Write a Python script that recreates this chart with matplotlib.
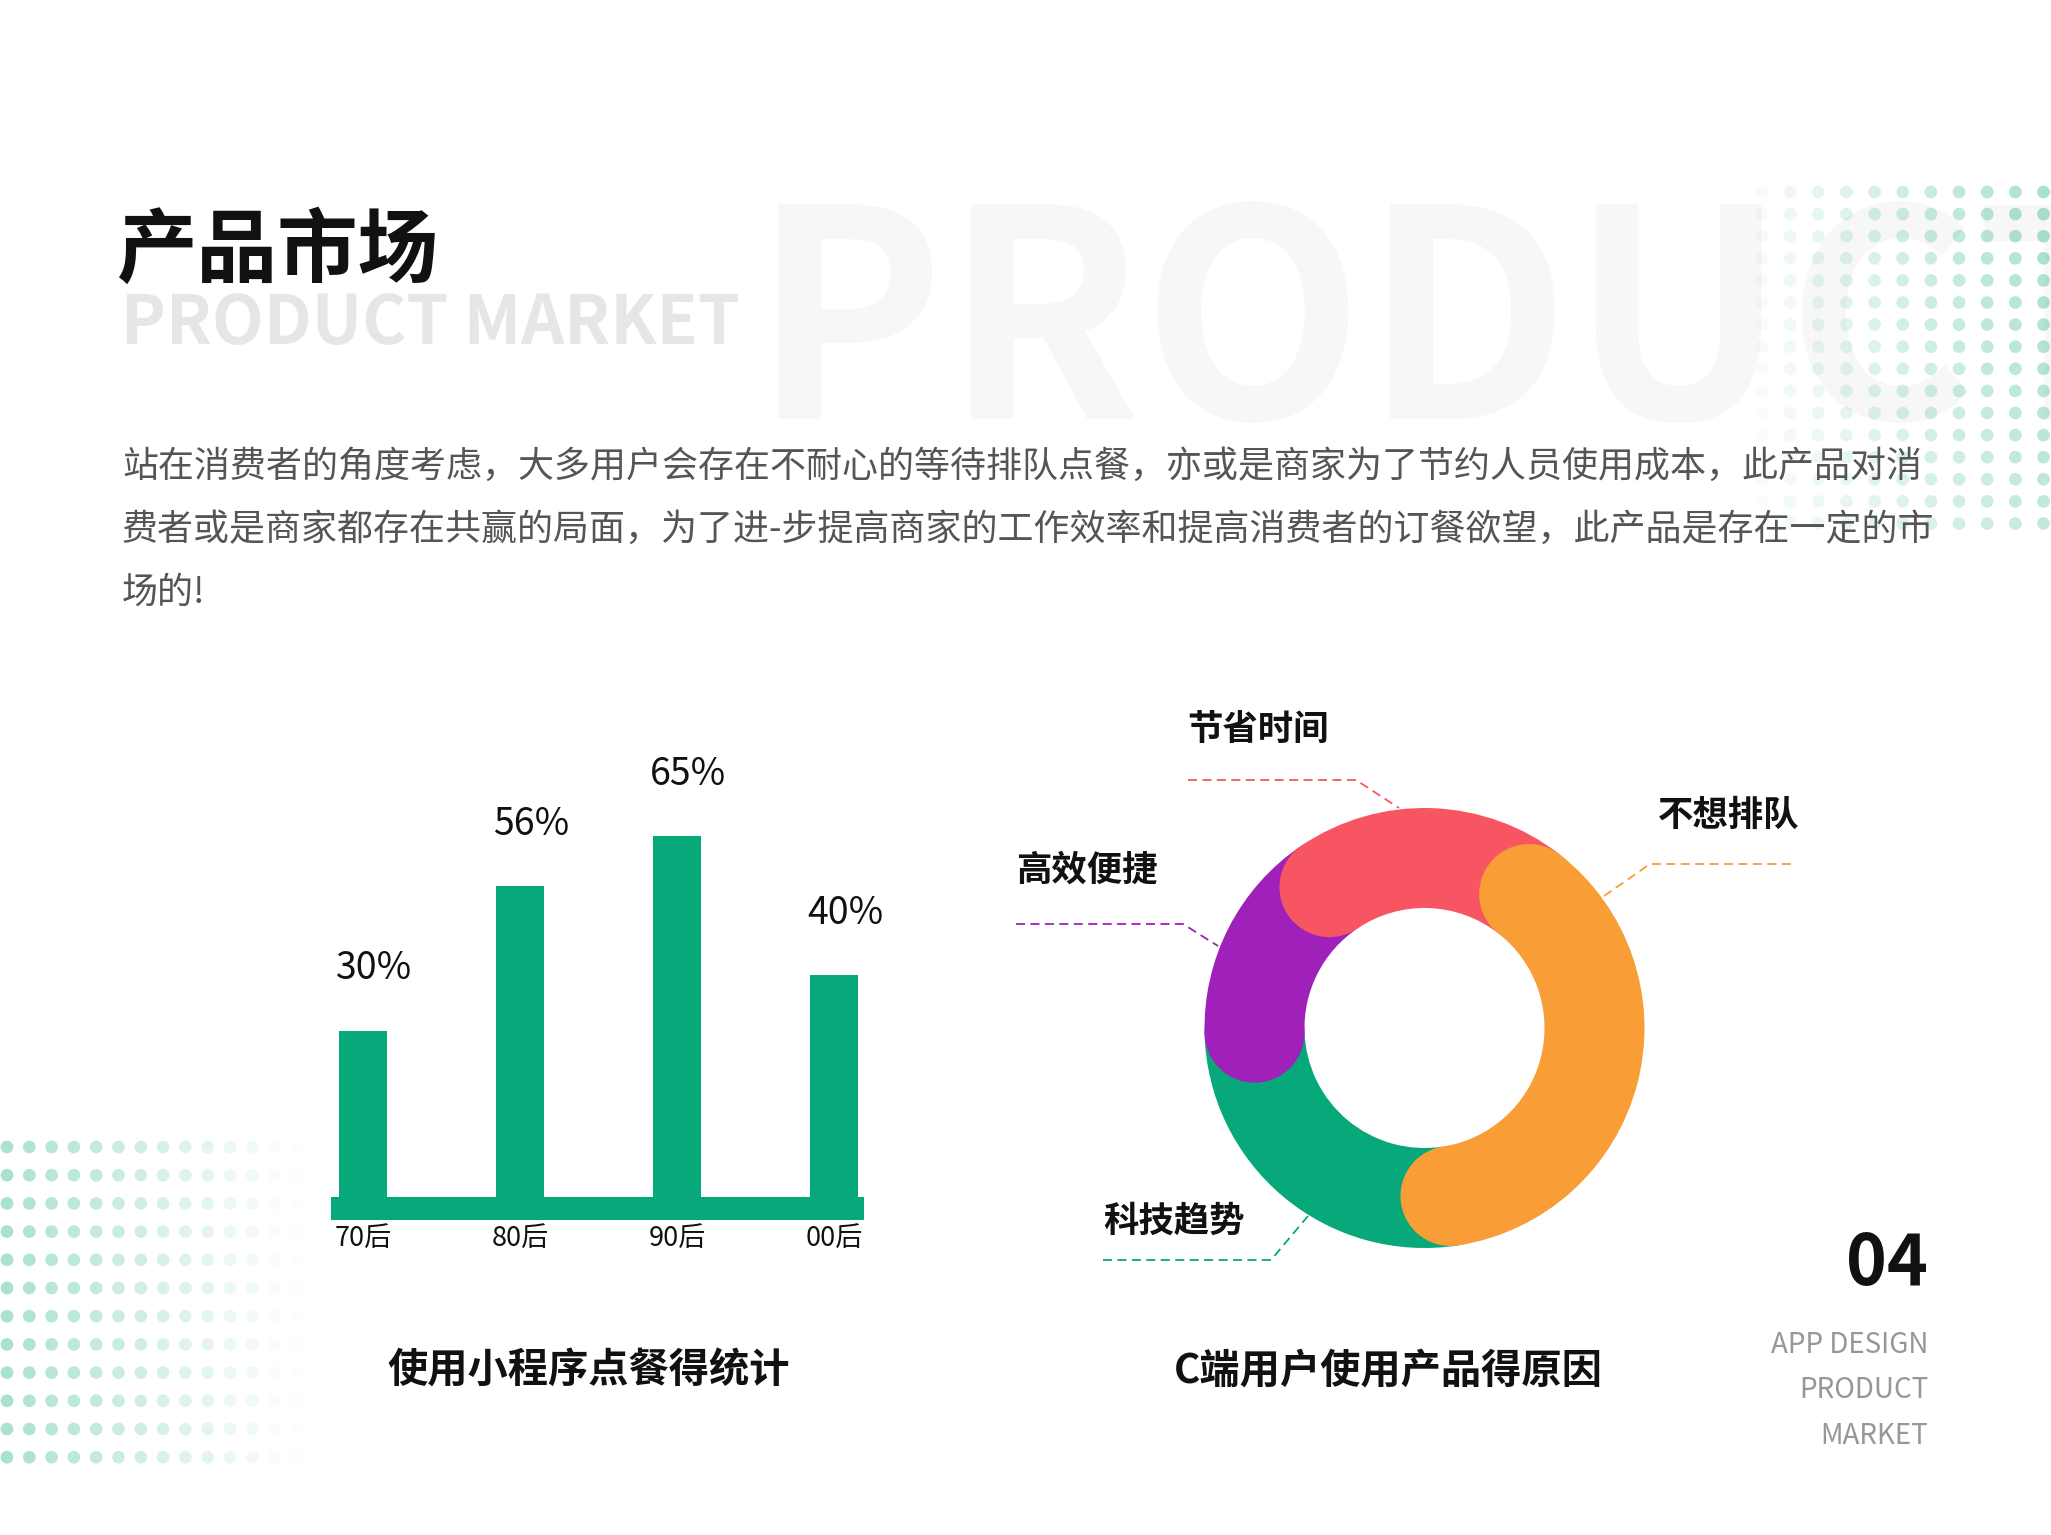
import numpy as np
import matplotlib
matplotlib.use('Agg')
import matplotlib.pyplot as plt
from matplotlib.patches import Wedge, Circle, Rectangle
from matplotlib.colors import to_rgba

plt.rcParams['font.family'] = ['Noto Sans CJK SC', 'DejaVu Sans']

# ---- data ----
age_groups = ['70后', '80后', '90后', '00后']
usage_share = [30, 56, 65, 40]

reasons = ['节省时间', '不想排队', '科技趋势', '高效便捷']
reason_share = [20, 37, 27, 16]
reason_colors = ['#f85563', '#f99d36', '#07a87a', '#a020ba']

paragraph_lines = [
    '站在消费者的角度考虑，大多用户会存在不耐心的等待排队点餐，亦或是商家为了节约人员使用成本，此产品对消',
    '费者或是商家都存在共赢的局面，为了进-步提高商家的工作效率和提高消费者的订餐欲望，此产品是存在一定的市',
    '场的!',
]

green = '#07a87a'
W, H = 2051, 1535

fig = plt.figure(figsize=(W / 100, H / 100), dpi=100)
fig.patch.set_facecolor('white')

# background axes in pixel units
bg = fig.add_axes([0, 0, 1, 1])
bg.set_xlim(0, W)
bg.set_ylim(H, 0)
bg.axis('off')


def px_box(x0, y0, x1, y1):
    return [x0 / W, 1 - y1 / H, (x1 - x0) / W, (y1 - y0) / H]


# big watermark
bg.text(752, 419, 'PRODUCT MARKET', fontsize=208, weight='bold', color='#f7f7f7',
        ha='left', va='baseline', zorder=0)

# dot grids
base = np.array(to_rgba(green))
cols, rows = np.meshgrid(np.arange(11), np.arange(16))
xs = 1762 + 28.15 * cols
ys = 192 + 22.1 * rows
alpha = (0.04 + 0.31 * cols / 10) * (1 - 0.3 * rows / 15)
c = np.tile(base, (xs.size, 1))
c[:, 3] = alpha.ravel()
bg.scatter(xs.ravel(), ys.ravel(), s=84, c=c, linewidths=0, zorder=1)

cols, rows = np.meshgrid(np.arange(14), np.arange(12))
xs = 7 + 22.3 * cols
ys = 1147 + 28.2 * rows
alpha = np.clip(0.34 * (1 - cols / 13), 0.01, 1)
c = np.tile(base, (xs.size, 1))
c[:, 3] = alpha.ravel()
bg.scatter(xs.ravel(), ys.ravel(), s=84, c=c, linewidths=0, zorder=1)

# titles
bg.text(116, 252, '产品市场', fontsize=58, weight='bold', color='#111111',
        ha='left', va='center', zorder=3)
bg.text(121, 344, 'PRODUCT MARKET', fontsize=48.5, weight='bold', color='#e6e6e6',
        ha='left', va='baseline', zorder=2)

for i, line in enumerate(paragraph_lines):
    bg.text(122, 467 + 63 * i, line, fontsize=25.9, color='#555555',
            ha='left', va='center', zorder=3)

# ---- bar chart ----
unit_y = 5.55
y0_px = 1197
x0_px, unit_x = 363.4, 156.9
bar_ax = fig.add_axes(px_box(320, y0_px - 80 * unit_y, 880, y0_px + 4.2 * unit_y))
bar_ax.set_xlim((320 - x0_px) / unit_x, (880 - x0_px) / unit_x)
bar_ax.set_ylim(-4.2, 80)
bar_ax.patch.set_alpha(0)
x = np.arange(len(age_groups))
bar_ax.bar(x, usage_share, width=48 / unit_x, color=green)
band_l = (331 - x0_px) / unit_x
band_r = (864 - x0_px) / unit_x
bar_ax.add_patch(Rectangle((band_l, -4.2), band_r - band_l, 4.2, color=green, lw=0))
for xi, v in zip(x, usage_share):
    bar_ax.annotate(f'{v}%', (xi, v), xytext=(8, 37), textcoords='offset points',
                    ha='center', va='baseline', fontsize=27, color='#111111')
bar_ax.set_xticks(x, age_groups)
bar_ax.tick_params(axis='x', length=0, pad=3.5, labelsize=19.5, labelcolor='#111111')
bar_ax.set_yticks([])
for s in bar_ax.spines.values():
    s.set_visible(False)

bg.text(589, 1371, '使用小程序点餐得统计', fontsize=29, weight='bold', color='#111111',
        ha='center', va='center')

# ---- donut ----
cx, cy, R = 1424.5, 1028, 220
d_ax = fig.add_axes(px_box(cx - 1.25 * R, cy - 1.25 * R, cx + 1.25 * R, cy + 1.25 * R))
d_ax.set_xlim(-1.25, 1.25)
d_ax.set_ylim(-1.25, 1.25)
d_ax.set_aspect('equal')
d_ax.axis('off')

ring_w = 100 / R
mid = 1 - ring_w / 2
theta = 124.0
spans = []
for share in reason_share:
    sweep = share / sum(reason_share) * 360
    spans.append((theta - sweep, theta))
    theta -= sweep


def cap(ang, color, z):
    a = np.radians(ang)
    d_ax.add_patch(Circle((mid * np.cos(a), mid * np.sin(a)), ring_w / 2,
                          color=color, lw=0, zorder=z))


# draw order: green, purple, red, orange
for z, i in enumerate([2, 3, 0, 1]):
    t1, t2 = spans[i]
    d_ax.add_patch(Wedge((0, 0), 1, t1, t2, width=ring_w, color=reason_colors[i],
                         lw=0, zorder=z + 1))
cap(spans[3][1], reason_colors[3], 2)
cap(spans[0][1], reason_colors[0], 3)
cap(spans[1][1], reason_colors[1], 4)
cap(spans[1][0], reason_colors[1], 4)

# leader lines and labels
leaders = {
    '节省时间': ([1188, 1356, 1399], [780, 780, 808], (1187, 729)),
    '不想排队': ([1604, 1650, 1792], [896, 864, 864], (1658, 815)),
    '科技趋势': ([1103, 1271, 1308], [1260, 1260, 1216], (1103, 1221)),
    '高效便捷': ([1016, 1183, 1218], [924, 924, 946], (1016, 870)),
}
for name, color in zip(reasons, reason_colors):
    lx, ly, (tx, ty) = leaders[name]
    bg.plot(lx, ly, color=color, lw=1.3, linestyle=(0, (5, 3)), zorder=2)
    bg.text(tx, ty, name, fontsize=25.5, weight='bold', color='#111111',
            ha='left', va='center', zorder=3)

bg.text(1388, 1371, 'C端用户使用产品得原因', fontsize=29, weight='bold', color='#111111',
        ha='center', va='center')

# page number block
bg.text(1928, 1285, '04', fontsize=50, weight='bold', color='#111111',
        ha='right', va='baseline')
for i, t in enumerate(['APP DESIGN', 'PRODUCT', 'MARKET']):
    bg.text(1928, 1353 + 45.5 * i, t, fontsize=20, color='#979797',
            ha='right', va='baseline')

fig.savefig('out.png', dpi=100)
